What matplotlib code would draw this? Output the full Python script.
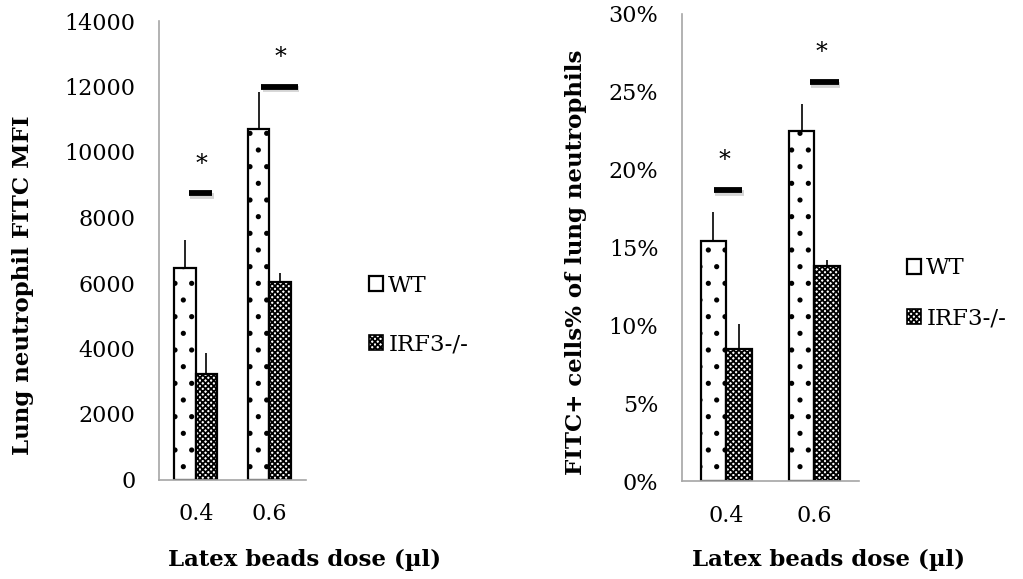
import matplotlib
matplotlib.use("Agg")
import matplotlib.pyplot as plt
import matplotlib.patheffects as pe
from matplotlib.patches import Patch
import numpy as np
from matplotlib.ticker import FuncFormatter

# ---- data ----
doses = ["0.4", "0.6"]
groups = ["WT", "IRF3-/-"]

mfi_wt = [6450, 10700]
mfi_wt_err = [860, 1140]
mfi_ko = [3210, 6020]
mfi_ko_err = [640, 280]
mfi_sig_level = [8740, 12000]
mfi_star_level = [9630, 12900]

pct_wt = [15.4, 22.5]
pct_wt_err = [1.9, 1.7]
pct_ko = [8.5, 13.8]
pct_ko_err = [1.6, 0.4]
pct_sig_level = [18.7, 25.6]
pct_star_level = [20.6, 27.5]

# ---- style ----
plt.rcParams['font.family'] = ['DejaVu Serif']
plt.rcParams['hatch.linewidth'] = 1.3
TICK_FS = 16
LABEL_FS = 16.5
LEG_FS = 16.5
SPINE_C = '#A6A6A6'
KO_HATCH = 'xxxxxx'

fig = plt.figure(figsize=(10.23, 5.79), dpi=100)
axL = fig.add_axes([159/1023, 1-479.5/579, 147/1023, 458.5/579])
axR = fig.add_axes([682/1023, 1-481/579, 176.6/1023, 467/579])

W = 0.29
x = np.arange(len(doses))


def draw(ax, wt, wte, ko, koe, ymax, ystep, sig, star, sig_ext, star_dx, fmt=None):
    ax.bar(x - W/2, wt, W, facecolor='white', edgecolor='black', linewidth=1.6,
           hatch='.', zorder=2)
    ax.bar(x + W/2, ko, W, facecolor='white', edgecolor='black', linewidth=1.6,
           hatch=KO_HATCH, zorder=2)
    ax.errorbar(x - W/2, wt, yerr=[np.zeros(len(wt)), wte], fmt='none', ecolor='black',
                elinewidth=1.2, capsize=0, zorder=1)
    ax.errorbar(x + W/2, ko, yerr=[np.zeros(len(ko)), koe], fmt='none', ecolor='black',
                elinewidth=1.2, capsize=0, zorder=1)
    for i in range(len(x)):
        x0, x1 = sig_ext[i]
        ax.plot([x[i] + x0, x[i] + x1], [sig[i], sig[i]], color='black', lw=4.2,
                solid_capstyle='butt', zorder=3,
                path_effects=[pe.SimpleLineShadow(offset=(1, -2), shadow_color='#888888', alpha=0.35),
                              pe.Normal()])
        ax.text(x[i] + star_dx[i], star[i], '*', ha='center', va='center', fontsize=17,
                zorder=3)
    ax.set_xlim(-0.5, len(x) - 0.5)
    ax.set_ylim(0, ymax)
    ax.set_yticks(np.arange(0, ymax + ystep/2, ystep))
    if fmt:
        ax.yaxis.set_major_formatter(FuncFormatter(fmt))
    ax.set_xticks(x)
    ax.set_xticklabels(doses)
    ax.tick_params(axis='both', length=0, labelsize=TICK_FS)
    ax.tick_params(axis='x', pad=17)
    ax.tick_params(axis='y', pad=17)
    for s in ['top', 'right']:
        ax.spines[s].set_visible(False)
    for s in ['left', 'bottom']:
        ax.spines[s].set_color(SPINE_C)
        ax.spines[s].set_linewidth(1.2)


draw(axL, mfi_wt, mfi_wt_err, mfi_ko, mfi_ko_err, 14000, 2000,
     mfi_sig_level, mfi_star_level,
     [(-0.095, 0.227), (-0.109, 0.39)], [0.078, 0.15])
draw(axR, pct_wt, pct_wt_err, pct_ko, pct_ko_err, 30, 5,
     pct_sig_level, pct_star_level,
     [(-0.14, 0.185), (-0.05, 0.275)], [-0.02, 0.076],
     fmt=lambda v, p: f"{v:.0f}%")

fig.text(23/1023, 1-285/579, "Lung neutrophil FITC MFI", rotation=90, ha='center', va='center',
         fontsize=LABEL_FS, fontweight='bold')
fig.text(576/1023, 1-262/579, "FITC+ cells% of lung neutrophils", rotation=90, ha='center',
         va='center', fontsize=LABEL_FS, fontweight='bold')
fig.text(168/1023, 1-566/579, "Latex beads dose (\u00b5l)", ha='left', va='baseline',
         fontsize=LABEL_FS, fontweight='bold')
fig.text(692/1023, 1-566/579, "Latex beads dose (\u00b5l)", ha='left', va='baseline',
         fontsize=LABEL_FS, fontweight='bold')

handles = [Patch(facecolor='white', edgecolor='black', linewidth=1.6),
           Patch(facecolor='white', edgecolor='black', linewidth=1.2, hatch=KO_HATCH)]
legkw = dict(frameon=False, fontsize=LEG_FS, handlelength=0.62, handleheight=0.62,
             handletextpad=0.22, borderpad=0, borderaxespad=0)
fig.legend(handles, groups, loc='center left', bbox_to_anchor=(369/1023, 1-315/579),
           labelspacing=1.6, **legkw)
fig.legend(handles, groups, loc='center left', bbox_to_anchor=(907/1023, 1-293.5/579),
           labelspacing=1.25, **legkw)

fig.savefig("out.png", dpi=100)
